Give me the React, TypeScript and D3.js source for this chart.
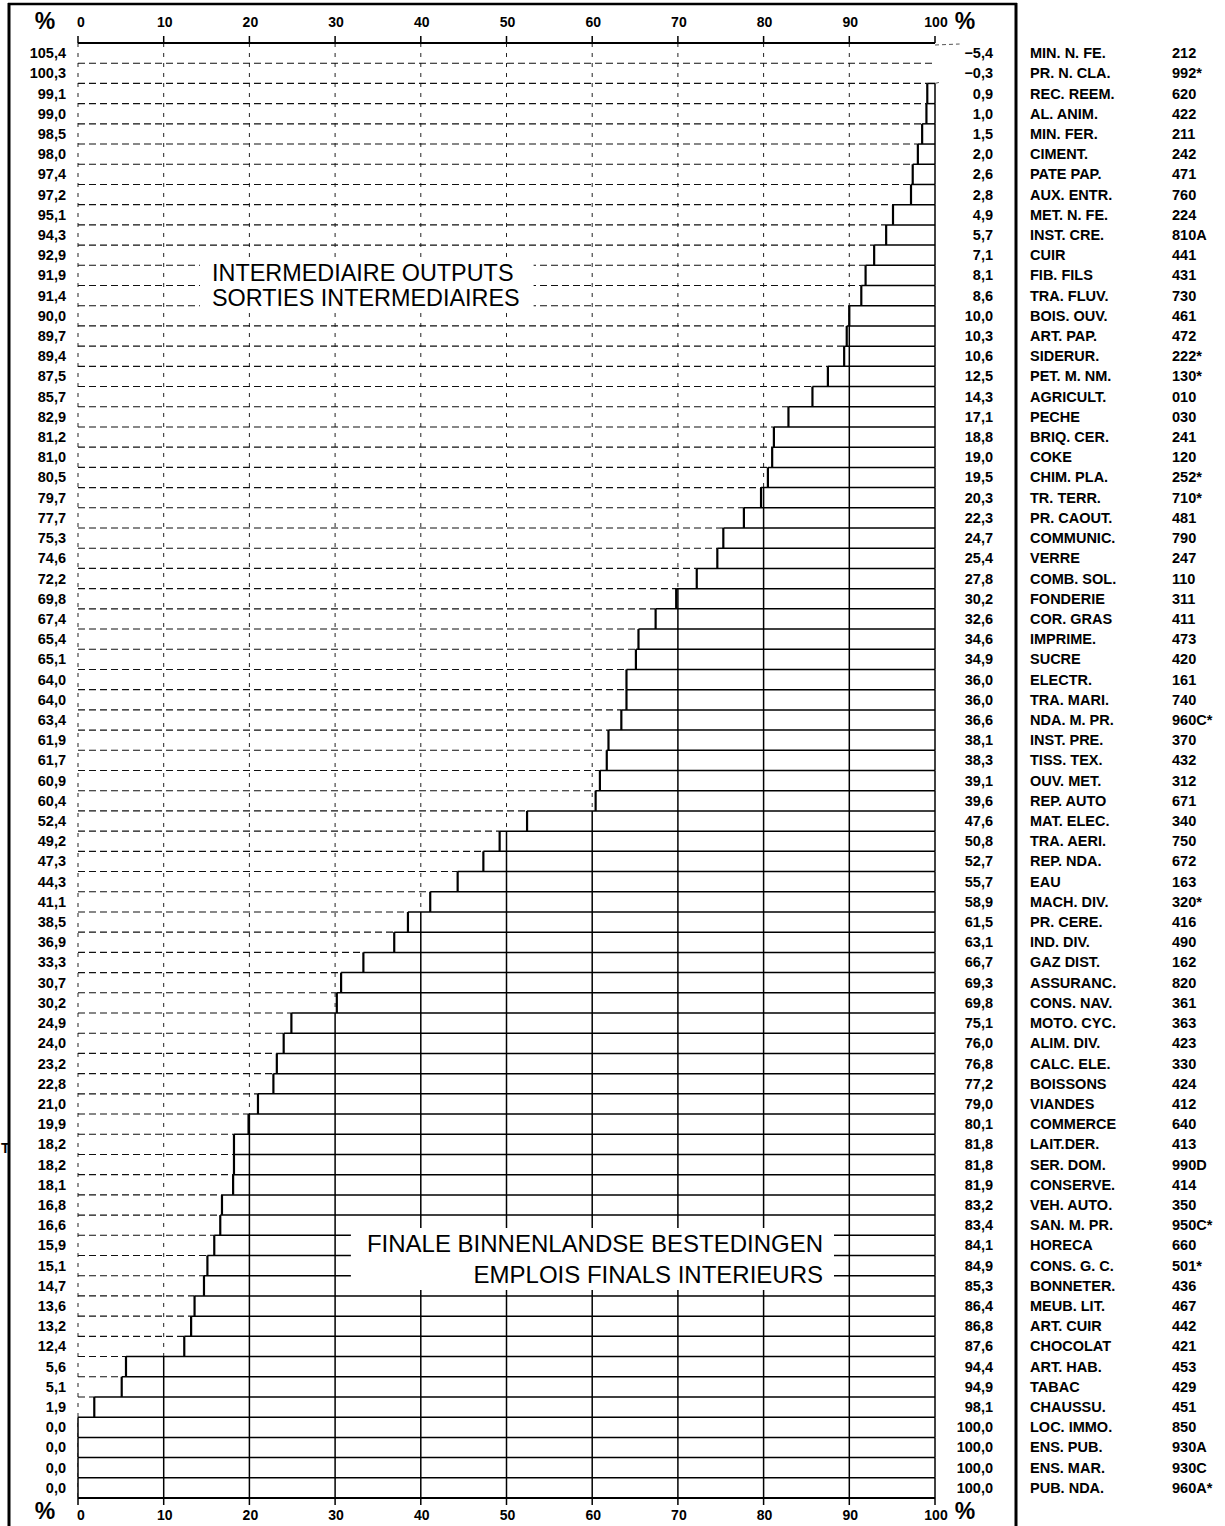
import { useEffect, useRef } from 'react';
import * as d3 from 'd3';

// intermediate output share (left column) and final domestic use share (right column), %
const intermediate = [
  105.4, 100.3, 99.1, 99.0, 98.5, 98.0, 97.4, 97.2, 95.1, 94.3, 92.9, 91.9,
  91.4, 90.0, 89.7, 89.4, 87.5, 85.7, 82.9, 81.2, 81.0, 80.5, 79.7, 77.7,
  75.3, 74.6, 72.2, 69.8, 67.4, 65.4, 65.1, 64.0, 64.0, 63.4, 61.9, 61.7,
  60.9, 60.4, 52.4, 49.2, 47.3, 44.3, 41.1, 38.5, 36.9, 33.3, 30.7, 30.2,
  24.9, 24.0, 23.2, 22.8, 21.0, 19.9, 18.2, 18.2, 18.1, 16.8, 16.6, 15.9,
  15.1, 14.7, 13.6, 13.2, 12.4, 5.6, 5.1, 1.9, 0.0, 0.0, 0.0, 0.0,
];
const finalUse = [
  -5.4, -0.3, 0.9, 1.0, 1.5, 2.0, 2.6, 2.8, 4.9, 5.7, 7.1, 8.1,
  8.6, 10.0, 10.3, 10.6, 12.5, 14.3, 17.1, 18.8, 19.0, 19.5, 20.3, 22.3,
  24.7, 25.4, 27.8, 30.2, 32.6, 34.6, 34.9, 36.0, 36.0, 36.6, 38.1, 38.3,
  39.1, 39.6, 47.6, 50.8, 52.7, 55.7, 58.9, 61.5, 63.1, 66.7, 69.3, 69.8,
  75.1, 76.0, 76.8, 77.2, 79.0, 80.1, 81.8, 81.8, 81.9, 83.2, 83.4, 84.1,
  84.9, 85.3, 86.4, 86.8, 87.6, 94.4, 94.9, 98.1, 100.0, 100.0, 100.0, 100.0,
];
const sectors = [
  'MIN. N. FE.', 'PR. N. CLA.', 'REC. REEM.', 'AL. ANIM.', 'MIN. FER.', 'CIMENT.',
  'PATE PAP.', 'AUX. ENTR.', 'MET. N. FE.', 'INST. CRE.', 'CUIR', 'FIB. FILS',
  'TRA. FLUV.', 'BOIS. OUV.', 'ART. PAP.', 'SIDERUR.', 'PET. M. NM.', 'AGRICULT.',
  'PECHE', 'BRIQ. CER.', 'COKE', 'CHIM. PLA.', 'TR. TERR.', 'PR. CAOUT.',
  'COMMUNIC.', 'VERRE', 'COMB. SOL.', 'FONDERIE', 'COR. GRAS', 'IMPRIME.',
  'SUCRE', 'ELECTR.', 'TRA. MARI.', 'NDA. M. PR.', 'INST. PRE.', 'TISS. TEX.',
  'OUV. MET.', 'REP. AUTO', 'MAT. ELEC.', 'TRA. AERI.', 'REP. NDA.', 'EAU',
  'MACH. DIV.', 'PR. CERE.', 'IND. DIV.', 'GAZ DIST.', 'ASSURANC.', 'CONS. NAV.',
  'MOTO. CYC.', 'ALIM. DIV.', 'CALC. ELE.', 'BOISSONS', 'VIANDES', 'COMMERCE',
  'LAIT.DER.', 'SER. DOM.', 'CONSERVE.', 'VEH. AUTO.', 'SAN. M. PR.', 'HORECA',
  'CONS. G. C.', 'BONNETER.', 'MEUB. LIT.', 'ART. CUIR', 'CHOCOLAT', 'ART. HAB.',
  'TABAC', 'CHAUSSU.', 'LOC. IMMO.', 'ENS. PUB.', 'ENS. MAR.', 'PUB. NDA.',
];
const codes = [
  '212', '992*', '620', '422', '211', '242', '471', '760', '224', '810A', '441', '431',
  '730', '461', '472', '222*', '130*', '010', '030', '241', '120', '252*', '710*', '481',
  '790', '247', '110', '311', '411', '473', '420', '161', '740', '960C*', '370', '432',
  '312', '671', '340', '750', '672', '163', '320*', '416', '490', '162', '820', '361',
  '363', '423', '330', '424', '412', '640', '413', '990D', '414', '350', '950C*', '660',
  '501*', '436', '467', '442', '421', '453', '429', '451', '850', '930A', '930C', '960A*',
];
const ticks = [0, 10, 20, 30, 40, 50, 60, 70, 80, 90, 100];

const FONT = '"Liberation Sans", Arial, Helvetica, sans-serif';

export default function App() {
  const svgRef = useRef(null);

  useEffect(() => {
    if (!svgRef.current) return;
    const svg = d3.select(svgRef.current);
    svg.selectAll('*').remove();

    const width = 1225;
    const height = 1526;
    const n = intermediate.length;

    const x = d3.scaleLinear().domain([0, 100]).range([78, 935]);
    const y = d3.scaleBand<number>().domain(d3.range(n)).range([43, 1498]);
    const bw = y.bandwidth();
    const top = y(0)!;
    const bottom = top + bw * n;

    const loc = d3.formatLocale({ decimal: ',', thousands: '.', grouping: [3], currency: ['', ''], minus: '\u2212' });
    const fmt = loc.format('.1f');

    svg.attr('width', width).attr('height', height);
    svg.append('rect').attr('width', width).attr('height', height).attr('fill', '#fff');

    // frame
    const frame = svg.append('g').attr('stroke', '#000').attr('fill', 'none');
    frame.append('line').attr('x1', 9).attr('x2', 9).attr('y1', 3).attr('y2', height).attr('stroke-width', 3);
    frame.append('line').attr('x1', 8).attr('x2', 1017).attr('y1', 4).attr('y2', 4).attr('stroke-width', 2.5);
    frame.append('line').attr('x1', 1016).attr('x2', 1016).attr('y1', 3).attr('y2', height).attr('stroke-width', 3);

    // box extent for each row (undefined when final use is negative)
    const boxStart = (i: number) => (intermediate[i] <= 100 ? Math.max(0, intermediate[i]) : undefined);

    // dashed vertical grid
    const grid = svg.append('g');
    grid.selectAll('line')
      .data(ticks.filter((t) => t < 100))
      .join('line')
      .attr('x1', (d) => x(d)).attr('x2', (d) => x(d))
      .attr('y1', top).attr('y2', bottom)
      .attr('stroke', '#222').attr('stroke-width', 1)
      .attr('stroke-dasharray', '4,6');

    // dashed horizontal row boundaries (intermediate part)
    const bounds = d3.range(1, n + 1).map((k) => {
      const starts = [boxStart(k - 1), k < n ? boxStart(k) : undefined].filter((v) => v !== undefined) as number[];
      return { k, solid: starts.length ? d3.min(starts)! : 100 };
    });
    grid.selectAll('line.hd')
      .data(bounds.filter((b) => b.solid > 0))
      .join('line')
      .attr('class', 'hd')
      .attr('x1', x(0)).attr('x2', (d) => x(d.solid))
      .attr('y1', (d) => top + d.k * bw).attr('y2', (d) => top + d.k * bw)
      .attr('stroke', '#111').attr('stroke-width', 1.1)
      .attr('stroke-dasharray', '7,4');

    // white background under solid boxes so dashed lines stop at divider
    const boxes = svg.append('g');
    const rows = d3.range(n).filter((i) => boxStart(i) !== undefined);
    boxes.selectAll('rect')
      .data(rows)
      .join('rect')
      .attr('x', (i) => x(boxStart(i)!))
      .attr('y', (i) => y(i)!)
      .attr('width', (i) => x(100) - x(boxStart(i)!))
      .attr('height', bw)
      .attr('fill', '#fff');

    // solid grid segments inside boxes
    const segs: { i: number; t: number }[] = [];
    rows.forEach((i) => {
      ticks.forEach((t) => {
        if (t >= boxStart(i)!) segs.push({ i, t });
      });
    });
    boxes.selectAll('line.vs')
      .data(segs)
      .join('line')
      .attr('class', 'vs')
      .attr('x1', (d) => x(d.t)).attr('x2', (d) => x(d.t))
      .attr('y1', (d) => y(d.i)!).attr('y2', (d) => y(d.i)! + bw)
      .attr('stroke', '#000').attr('stroke-width', 1.5);

    // solid horizontal boundaries (final part)
    boxes.selectAll('line.hs')
      .data(bounds.filter((b) => b.solid < 100))
      .join('line')
      .attr('class', 'hs')
      .attr('x1', (d) => x(d.solid)).attr('x2', x(100))
      .attr('y1', (d) => top + d.k * bw).attr('y2', (d) => top + d.k * bw)
      .attr('stroke', '#000').attr('stroke-width', 1.5);

    // dividers
    boxes.selectAll('line.dv')
      .data(rows.filter((i) => boxStart(i)! > 0))
      .join('line')
      .attr('class', 'dv')
      .attr('x1', (i) => x(boxStart(i)!)).attr('x2', (i) => x(boxStart(i)!))
      .attr('y1', (i) => y(i)!).attr('y2', (i) => y(i)! + bw)
      .attr('stroke', '#000').attr('stroke-width', 2.2);

    // top axis line and ticks
    const axes = svg.append('g').attr('stroke', '#000');
    axes.append('line').attr('x1', x(0)).attr('x2', x(100)).attr('y1', top).attr('y2', top).attr('stroke-width', 2);
    axes.append('line').attr('x1', x(0)).attr('x2', x(100)).attr('y1', bottom).attr('y2', bottom).attr('stroke-width', 2);
    axes.selectAll('line.tt')
      .data(ticks)
      .join('line')
      .attr('class', 'tt')
      .attr('x1', (d) => x(d)).attr('x2', (d) => x(d))
      .attr('y1', top - 7).attr('y2', top)
      .attr('stroke-width', 1.5);
    axes.selectAll('line.tb')
      .data(ticks)
      .join('line')
      .attr('class', 'tb')
      .attr('x1', (d) => x(d)).attr('x2', (d) => x(d))
      .attr('y1', bottom).attr('y2', bottom + 7)
      .attr('stroke-width', 1.5);

    // small dashed stubs for the negative final shares
    axes.selectAll('line.neg')
      .data(d3.range(n).filter((i) => finalUse[i] < 0))
      .join('line')
      .attr('class', 'neg')
      .attr('x1', x(100)).attr('x2', (i) => x(100) + 3 + Math.abs(finalUse[i]) * 4)
      .attr('y1', (i) => y(i)! + 2 + i * bw * 0.9).attr('y2', (i) => y(i)! + 1 + i * bw * 0.9)
      .attr('stroke', '#555').attr('stroke-width', 1).attr('stroke-dasharray', '4,3');

    // tick labels
    const lab = svg.append('g').attr('font-family', FONT).attr('font-weight', 'bold').attr('fill', '#000');
    [{ yy: 27, py: 29 }, { yy: bottom + 22, py: bottom + 21 }].forEach(({ yy, py }) => {
      lab.append('g').selectAll('text')
        .data(ticks)
        .join('text')
        .attr('x', (d) => x(d) + (d === 0 ? 3 : 1))
        .attr('y', yy)
        .attr('text-anchor', 'middle')
        .attr('font-size', 14)
        .text((d) => String(d));
      lab.append('text').attr('x', 45).attr('y', py).attr('text-anchor', 'middle').attr('font-size', 23).text('%');
      lab.append('text').attr('x', 965).attr('y', py).attr('text-anchor', 'middle').attr('font-size', 23).text('%');
    });

    // row labels
    const rowLab = lab.append('g').attr('font-size', 14.5).attr('dominant-baseline', 'central');
    rowLab.selectAll('text.l')
      .data(intermediate)
      .join('text')
      .attr('class', 'l')
      .attr('x', 66)
      .attr('y', (_, i) => y(i)! + bw / 2)
      .attr('text-anchor', 'end')
      .text((d) => fmt(d));
    rowLab.selectAll('text.r')
      .data(finalUse)
      .join('text')
      .attr('class', 'r')
      .attr('x', 993)
      .attr('y', (_, i) => y(i)! + bw / 2)
      .attr('text-anchor', 'end')
      .text((d) => fmt(d));
    rowLab.selectAll('text.s')
      .data(sectors)
      .join('text')
      .attr('class', 's')
      .attr('x', 1030)
      .attr('y', (_, i) => y(i)! + bw / 2)
      .text((d) => d);
    rowLab.selectAll('text.c')
      .data(codes)
      .join('text')
      .attr('class', 'c')
      .attr('x', 1172)
      .attr('y', (_, i) => y(i)! + bw / 2)
      .text((d) => d);

    lab.append('text').attr('x', 1).attr('y', 1153).attr('font-size', 14).text('T');

    // annotations with white backing
    const note = (lines: string[], xPos: number, ys: number[], anchor: string, size: number, padL: number, padR: number, padY: number) => {
      const g = svg.append('g').attr('font-family', FONT).attr('font-size', size).attr('fill', '#000');
      const texts = lines.map((t, k) =>
        g.append('text').attr('x', xPos).attr('y', ys[k]).attr('text-anchor', anchor).text(t)
      );
      const boxesBB = texts.map((t) => (t.node() as SVGTextElement).getBBox());
      const x0 = d3.min(boxesBB, (b) => b.x)!;
      const x1 = d3.max(boxesBB, (b) => b.x + b.width)!;
      const y0 = d3.min(boxesBB, (b) => b.y)!;
      const y1 = d3.max(boxesBB, (b) => b.y + b.height)!;
      g.insert('rect', 'text')
        .attr('x', x0 - padL).attr('y', y0 - padY)
        .attr('width', x1 - x0 + padL + padR).attr('height', y1 - y0 + padY * 2)
        .attr('fill', '#fff');
    };
    note(['INTERMEDIAIRE OUTPUTS', 'SORTIES INTERMEDIAIRES'], 212, [281, 306], 'start', 23.4, 12, 14, 1);
    note(['FINALE BINNENLANDSE BESTEDINGEN', 'EMPLOIS FINALS INTERIEURS'], 823, [1252, 1283], 'end', 24, 16, 11, 2);
  }, []);

  return <svg ref={svgRef} style={{ position: 'absolute', left: 0, top: 0, display: 'block' }}></svg>;
}
